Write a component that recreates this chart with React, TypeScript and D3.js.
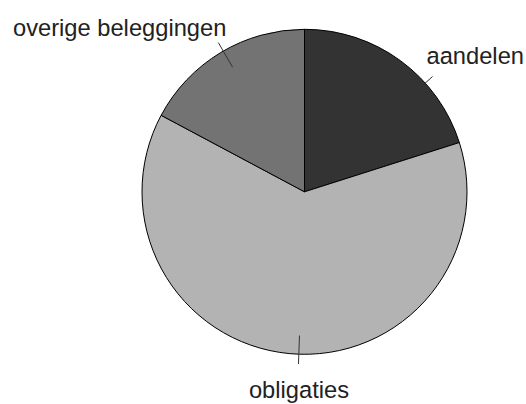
import React from "react";
import * as d3 from "d3";

const categories = ["aandelen", "obligaties", "overige beleggingen"];
const values = [20.1, 62.7, 17.2];
const colors = ["#333333", "#b3b3b3", "#737373"];
// angle (degrees, clockwise from 12 o'clock) at which each leader line is drawn
const leaderAngles = [48, 182, -30];

const W = 526;
const H = 404;
const cx = 304.5;
const cy = 191.8;
const R = 162.5;

export default function App() {
  const pie = d3.pie<number>().sort(null).startAngle(0).endAngle(2 * Math.PI);
  const arcs = pie(values);
  const arc = d3.arc<d3.PieArcDatum<number>>().innerRadius(0).outerRadius(R);

  const pt = (deg: number, r: number) => {
    const a = (deg * Math.PI) / 180;
    return [cx + Math.sin(a) * r, cy - Math.cos(a) * r];
  };

  return (
    <svg width={W} height={H} style={{ position: "absolute", left: 0, top: 0 }}>
      <rect width={W} height={H} fill="#ffffff" />
      <g transform={`translate(${cx},${cy})`}>
        {arcs.map((a, i) => (
          <path key={i} d={arc(a) || ""} fill={colors[i]} stroke="#000" strokeWidth={1} />
        ))}
      </g>
      {arcs.map((a, i) => {
        const deg = leaderAngles[i];
        const [x1, y1] = pt(deg, R * 0.885);
        const [x2, y2] = pt(deg, R * 1.06);
        const norm = ((deg % 360) + 360) % 360;
        let tx = x2, ty = y2, anchor = "middle";
        if (norm > 150 && norm < 210) {
          tx = x2 + 0.5;
          ty = y2 + 34;
          anchor = "middle";
        } else if (norm < 180) {
          tx = x2 - 6;
          ty = y2 - 13;
          anchor = "start";
        } else {
          tx = x2 + 8;
          ty = y2 - 6.6;
          anchor = "end";
        }
        return (
          <g key={i}>
            <line x1={x1} y1={y1} x2={x2} y2={y2} stroke="#333" strokeWidth={1} />
            <text
              x={tx}
              y={ty}
              textAnchor={anchor}
              fontFamily="Liberation Sans, Arial, sans-serif"
              fontSize={23.7}
              fill="#222"
            >
              {categories[i]}
            </text>
          </g>
        );
      })}
    </svg>
  );
}
